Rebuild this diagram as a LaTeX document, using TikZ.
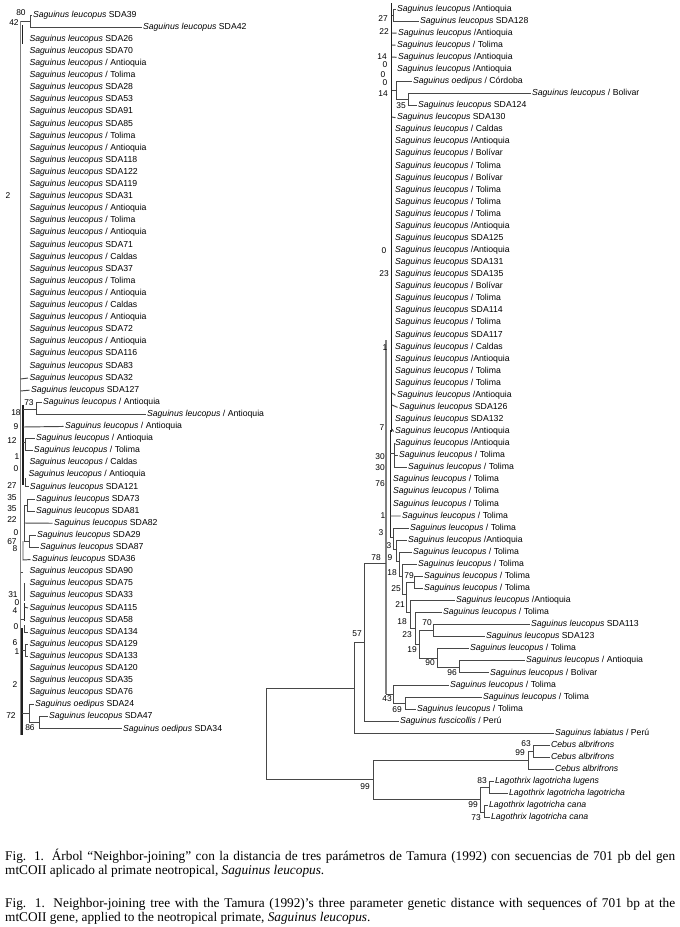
\documentclass[tikz,border=0pt]{standalone}
\usepackage{fontspec}
\setmainfont{Liberation Sans}
\newfontfamily\capfont{Liberation Serif}
\newcommand\SLeu{Saguinus leucopus}
\newcommand\LL[4]{\node[lab] (L#1) at ({#2-1.5},{17.15+12.1*(#1-1)}) {\textit{#3} #4};}
\newcommand\RL[4]{\node[lab] (R#1) at ({#2-1.5},{11.15+12.07*(#1-1)}) {\textit{#3} #4};}
\tikzset{
  lab/.style={anchor=base west, inner sep=0pt, outer xsep=1.5pt, outer ysep=0pt,
    text height=6pt, text depth=1.8pt, font=\fontsize{8.7}{9}\selectfont},
  num/.style={inner sep=0pt, font=\fontsize{8.4}{9}\selectfont},
  br/.style={draw=black!72, line width=0.95pt},
  brd/.style={draw=black!85, line width=1pt},
  trkg/.style={draw=black!50, line width=1.9pt},
  trkd/.style={draw=black!88, line width=1.7pt},
  captxt/.style={anchor=base west, inner sep=0pt, font=\capfont\fontsize{13.3}{15}\selectfont},
}
\begin{document}
\begin{tikzpicture}[x=1pt,y=-1pt]
\fill[white] (0,0) rectangle (680,927);
\useasboundingbox (0,0) rectangle (680,927);

% ---------------- left column labels ----------------
\LL{1}{33}{\SLeu}{SDA39}
\LL{2}{143}{\SLeu}{SDA42}
\LL{3}{29.5}{\SLeu}{SDA26}
\LL{4}{29.5}{\SLeu}{SDA70}
\LL{5}{29.5}{\SLeu}{/ Antioquia}
\LL{6}{29.5}{\SLeu}{/ Tolima}
\LL{7}{29.5}{\SLeu}{SDA28}
\LL{8}{29.5}{\SLeu}{SDA53}
\LL{9}{29.5}{\SLeu}{SDA91}
\LL{10}{29.5}{\SLeu}{SDA85}
\LL{11}{29.5}{\SLeu}{/ Tolima}
\LL{12}{29.5}{\SLeu}{/ Antioquia}
\LL{13}{29.5}{\SLeu}{SDA118}
\LL{14}{29.5}{\SLeu}{SDA122}
\LL{15}{29.5}{\SLeu}{SDA119}
\LL{16}{29.5}{\SLeu}{SDA31}
\LL{17}{29.5}{\SLeu}{/ Antioquia}
\LL{18}{29.5}{\SLeu}{/ Tolima}
\LL{19}{29.5}{\SLeu}{/ Antioquia}
\LL{20}{29.5}{\SLeu}{SDA71}
\LL{21}{29.5}{\SLeu}{/ Caldas}
\LL{22}{29.5}{\SLeu}{SDA37}
\LL{23}{29.5}{\SLeu}{/ Tolima}
\LL{24}{29.5}{\SLeu}{/ Antioquia}
\LL{25}{29.5}{\SLeu}{/ Caldas}
\LL{26}{29.5}{\SLeu}{/ Antioquia}
\LL{27}{29.5}{\SLeu}{SDA72}
\LL{28}{29.5}{\SLeu}{/ Antioquia}
\LL{29}{29.5}{\SLeu}{SDA116}
\LL{30}{29.5}{\SLeu}{SDA83}
\LL{31}{29.5}{\SLeu}{SDA32}
\LL{32}{31}{\SLeu}{SDA127}
\LL{33}{43}{\SLeu}{/ Antioquia}
\LL{34}{147}{\SLeu}{/ Antioquia}
\LL{35}{65}{\SLeu}{/ Antioquia}
\LL{36}{36}{\SLeu}{/ Antioquia}
\LL{37}{34}{\SLeu}{/ Tolima}
\LL{38}{29.5}{\SLeu}{/ Caldas}
\LL{39}{28.5}{\SLeu}{/ Antioquia}
\LL{40}{30}{\SLeu}{SDA121}
\LL{41}{36}{\SLeu}{SDA73}
\LL{42}{36}{\SLeu}{SDA81}
\LL{43}{54}{\SLeu}{SDA82}
\LL{44}{37}{\SLeu}{SDA29}
\LL{45}{40}{\SLeu}{SDA87}
\LL{46}{32}{\SLeu}{SDA36}
\LL{47}{29.5}{\SLeu}{SDA90}
\LL{48}{29.5}{\SLeu}{SDA75}
\LL{49}{29.5}{\SLeu}{SDA33}
\LL{50}{29.5}{\SLeu}{SDA115}
\LL{51}{29.5}{\SLeu}{SDA58}
\LL{52}{29.5}{\SLeu}{SDA134}
\LL{53}{29.5}{\SLeu}{SDA129}
\LL{54}{29.5}{\SLeu}{SDA133}
\LL{55}{29.5}{\SLeu}{SDA120}
\LL{56}{29.5}{\SLeu}{SDA35}
\LL{57}{29.5}{\SLeu}{SDA76}
\LL{58}{35}{Saguinus oedipus}{SDA24}
\LL{59}{49}{\SLeu}{SDA47}
\LL{60}{123}{Saguinus oedipus}{SDA34}

% ---------------- right column labels ----------------
\RL{1}{397}{\SLeu}{/Antioquia}
\RL{2}{420}{\SLeu}{SDA128}
\RL{3}{398}{\SLeu}{/Antioquia}
\RL{4}{397}{\SLeu}{/ Tolima}
\RL{5}{398}{\SLeu}{/Antioquia}
\RL{6}{397}{\SLeu}{/Antioquia}
\RL{7}{413}{Saguinus oedipus}{/ Córdoba}
\RL{8}{532}{\SLeu}{/ Bolivar}
\RL{9}{418}{\SLeu}{SDA124}
\RL{10}{397}{\SLeu}{SDA130}
\RL{11}{395}{\SLeu}{/ Caldas}
\RL{12}{395}{\SLeu}{/Antioquia}
\RL{13}{395}{\SLeu}{/ Bolívar}
\RL{14}{395}{\SLeu}{/ Tolima}
\RL{15}{395}{\SLeu}{/ Bolívar}
\RL{16}{395}{\SLeu}{/ Tolima}
\RL{17}{395}{\SLeu}{/ Tolima}
\RL{18}{395}{\SLeu}{/ Tolima}
\RL{19}{395}{\SLeu}{/Antioquia}
\RL{20}{395}{\SLeu}{SDA125}
\RL{21}{395}{\SLeu}{/Antioquia}
\RL{22}{395}{\SLeu}{SDA131}
\RL{23}{395}{\SLeu}{SDA135}
\RL{24}{395}{\SLeu}{/ Bolívar}
\RL{25}{395}{\SLeu}{/ Tolima}
\RL{26}{395}{\SLeu}{SDA114}
\RL{27}{395}{\SLeu}{/ Tolima}
\RL{28}{395}{\SLeu}{SDA117}
\RL{29}{395}{\SLeu}{/ Caldas}
\RL{30}{395}{\SLeu}{/Antioquia}
\RL{31}{395}{\SLeu}{/ Tolima}
\RL{32}{395}{\SLeu}{/ Tolima}
\RL{33}{397}{\SLeu}{/Antioquia}
\RL{34}{399}{\SLeu}{SDA126}
\RL{35}{395}{\SLeu}{SDA132}
\RL{36}{395}{\SLeu}{/Antioquia}
\RL{37}{395}{\SLeu}{/Antioquia}
\RL{38}{399}{\SLeu}{/ Tolima}
\RL{39}{408}{\SLeu}{/ Tolima}
\RL{40}{393}{\SLeu}{/ Tolima}
\RL{41}{393}{\SLeu}{/ Tolima}
\RL{42}{393}{\SLeu}{/ Tolima}
\RL{43}{402}{\SLeu}{/ Tolima}
\RL{44}{410}{\SLeu}{/ Tolima}
\RL{45}{408}{\SLeu}{/Antioquia}
\RL{46}{413}{\SLeu}{/ Tolima}
\RL{47}{418}{\SLeu}{/ Tolima}
\RL{48}{424}{\SLeu}{/ Tolima}
\RL{49}{424}{\SLeu}{/ Tolima}
\RL{50}{456}{\SLeu}{/Antioquia}
\RL{51}{443}{\SLeu}{/ Tolima}
\RL{52}{531}{\SLeu}{SDA113}
\RL{53}{486}{\SLeu}{SDA123}
\RL{54}{470}{\SLeu}{/ Tolima}
\RL{55}{526}{\SLeu}{/ Antioquia}
\RL{56}{490}{\SLeu}{/ Bolivar}
\RL{57}{450}{\SLeu}{/ Tolima}
\RL{58}{483}{\SLeu}{/ Tolima}
\RL{59}{417}{\SLeu}{/ Tolima}
\RL{60}{400}{Saguinus fuscicollis}{/ Perú}
\RL{61}{555}{Saguinus labiatus}{/ Perú}
\RL{62}{551}{Cebus albrifrons}{}
\RL{63}{551}{Cebus albrifrons}{}
\RL{64}{555}{Cebus albrifrons}{}
\RL{65}{495}{Lagothrix lagotricha lugens}{}
\RL{66}{509}{Lagothrix lagotricha lagotricha}{}
\RL{67}{489}{Lagothrix lagotricha cana}{}
\RL{68}{491}{Lagothrix lagotricha cana}{}

% ---------------- left column tree ----------------
\coordinate (lt) at (20.5,21);
\coordinate (lb) at (20.5,735);
\draw[trkg] (lt) -- (lb);
\draw[trkd] (22.5,25) -- (22.5,44);
\draw[trkd] (23,405) -- (23,485);
\draw[trkd] (22,628) -- (22,735);
\coordinate (c80) at (30,21);
\draw[br] (lt) -- (c80);
\draw[br] (c80) |- (L1.west);
\draw[br] (c80) |- (L2.west);
\draw[br] (20.5,379) -- (L31.west);
\draw[br] (20.5,391) -- (L32.west);
\coordinate (c73) at (36,409);
\draw[br] (23,409) -- (c73);
\draw[br] (c73) |- (L33.west);
\draw[br] (c73) |- (L34.west);
\draw[br] (23,427) -- (L35.west);
\coordinate (c12) at (25,442);
\draw[br] (23,442) -- (c12);
\draw[br] (c12) |- (L36.west);
\draw[br] (c12) |- (L37.west);
\draw[br] (25,478) |- (L40.west);
\coordinate (c22) at (24,523);
\coordinate (c35) at (27,505);
\coordinate (c67) at (29,541);
\draw[br] (c22) |- (c35);
\draw[br] (c22) -- (L43.west);
\draw[br] (c22) |- (c67);
\draw[br] (c35) |- (L41.west);
\draw[br] (c35) |- (L42.west);
\draw[br] (c67) |- (L44.west);
\draw[br] (c67) |- (L45.west);
\draw[br] (23,541) -- (23,560) -- (L46.west);
\draw[br] (20.5,572) -- (23,572);
\draw[br] (24,583) -- (24,601);
\draw[brd] (24,603) -- (24,621);
\draw[br] (24,607) -- (L50.west);
\draw[br] (20.5,619) -- (25,619);
\draw[br] (24,625) |- (L52.west);
\coordinate (c61) at (25,650);
\draw[br] (22,650) -- (c61);
\draw[br] (c61) |- (L53.west);
\draw[br] (c61) |- (L54.west);
\coordinate (cb1) at (29,713);
\coordinate (cb2) at (39,722.5);
\draw[br] (22,713) -- (cb1);
\draw[br] (cb1) |- (L58.west);
\draw[br] (cb1) |- (cb2);
\draw[br] (cb2) |- (L59.west);
\draw[br] (cb2) |- (L60.west);

% ---------------- right column tree ----------------
\coordinate (rt) at (391.5,3);
\coordinate (rtb) at (391.5,432);
\draw[trkd] (rt) -- (rtb);
\coordinate (cC) at (386,563);
\coordinate (cCt) at (386,340);
\coordinate (c43) at (393,694);
\draw[trkg] (cCt) -- (386,694);
\draw[br] (386,694) -- (c43);
\coordinate (cT) at (390,537);
\draw[brd] (390,430) -- (cT);
\coordinate (c27) at (393.5,15);
\draw[br] (391.5,15) -- (c27);
\draw[br] (c27) |- (R1.west);
\draw[br] (c27) |- (R2.west);
\draw[br] (392,33) -- (R3.west);
\draw[br] (392,45) -- (R4.west);
\draw[br] (392,57) -- (R5.west);
\coordinate (c0) at (396,90);
\coordinate (c35r) at (408,99);
\draw[br] (391.5,90) -- (c0);
\draw[br] (c0) |- (R7.west);
\draw[br] (c0) |- (c35r);
\draw[br] (c35r) |- (R8.west);
\draw[br] (c35r) |- (R9.west);
\draw[br] (392,117) -- (R10.west);
\draw[br] (392,393) -- (R33.west);
\draw[br] (392,405) -- (R34.west);
\draw[br] (392,429) -- (R36.west);
\coordinate (c30r) at (394,453);
\draw[br] (390,453) -- (c30r);
\draw[br] (c30r) |- (R37.west);
\draw[br] (c30r) |- (R38.west);
\draw[br] (c30r) |- (R39.west);
\draw[br] (390,516) -- (R43.west);
% ladder
\coordinate (cK2) at (393,537);
\coordinate (cK3) at (396,549);
\coordinate (cK4) at (399,561);
\coordinate (cK5) at (402,576);
\coordinate (cK6) at (406,594);
\coordinate (c79) at (414,582);
\coordinate (cK7) at (410,612);
\coordinate (cK8) at (415,628);
\coordinate (cK9) at (419,644);
\coordinate (c70) at (433,630);
\coordinate (c90) at (437,658);
\coordinate (c96) at (459,667);
\draw[br] (cT) -- (cK2);
\draw[br] (cK2) |- (R44.west);
\draw[br] (cK2) |- (cK3);
\draw[br] (cK3) |- (R45.west);
\draw[br] (cK3) |- (cK4);
\draw[br] (cK4) |- (R46.west);
\draw[br] (cK4) |- (cK5);
\draw[br] (cK5) |- (R47.west);
\draw[br] (cK5) |- (cK6);
\draw[br] (cK6) |- (c79);
\draw[br] (cK6) |- (cK7);
\draw[br] (c79) |- (R48.west);
\draw[br] (c79) |- (R49.west);
\draw[br] (cK7) |- (R50.west);
\draw[br] (cK7) |- (cK8);
\draw[br] (cK8) |- (R51.west);
\draw[br] (cK8) |- (cK9);
\draw[br] (cK9) |- (c70);
\draw[br] (cK9) |- (c90);
\draw[br] (c70) |- (R52.west);
\draw[br] (c70) |- (R53.west);
\draw[br] (c90) |- (R54.west);
\draw[br] (c90) |- (c96);
\draw[br] (c96) |- (R55.west);
\draw[br] (c96) |- (R56.west);
% lower clades
\coordinate (c69) at (405,703);
\draw[br] (c43) |- (R57.west);
\draw[br] (c43) |- (c69);
\draw[br] (c69) |- (R58.west);
\draw[br] (c69) |- (R59.west);
\coordinate (cB) at (364,642);
\coordinate (cA) at (354,688);
\coordinate (cR) at (266,733);
\coordinate (cO) at (373,779);
\draw[br] (cB) |- (cC);
\draw[br] (cB) |- (R60.west);
\draw[br] (cA) |- (cB);
\draw[br] (cA) |- (R61.west);
\draw[br] (cR) |- (cA);
\draw[br] (cR) |- (cO);
\coordinate (cCeb) at (528,760);
\coordinate (c63) at (533,751);
\coordinate (cLag) at (480,799);
\coordinate (c83) at (489,787.5);
\coordinate (c73r) at (484,812);
\draw[br] (cO) |- (cCeb);
\draw[br] (cO) |- (cLag);
\draw[br] (cCeb) |- (c63);
\draw[br] (cCeb) |- (R64.west);
\draw[br] (c63) |- (R62.west);
\draw[br] (c63) |- (R63.west);
\draw[br] (cLag) |- (c83);
\draw[br] (cLag) |- (c73r);
\draw[br] (c83) |- (R65.west);
\draw[br] (c83) |- (R66.west);
\draw[br] (c73r) |- (R67.west);
\draw[br] (c73r) |- (R68.west);

% ---------------- support values ----------------
\foreach \t/\x/\y [count=\i] in {80/21/13, 42/14/23, 2/8/196, 73/29/403, 18/16/413, 9/16/427,
  12/12/441, 1/17/457, 0/16/469, 27/12/486, 35/12/498, 35/12/509, 22/12/520, 0/16/533,
  67/12/542, 8/15/549, 31/13/595, 0/17/603, 4/15/611, 0/16/627, 6/15/643, 1/17/652,
  2/15/685, 72/11/716, 86/30/728}
  \node[num] (nl\i) at (\x,\y) {\t};
\foreach \t/\x/\y [count=\i] in {27/383/19, 22/384/32, 14/382/57, 0/385/64.5, 0/383/75,
  0/385/82.5, 14/383/94, 35/401/106, 0/384/251, 23/384/274, 1/385/348, 7/382/428,
  30/380/457, 30/380/468, 76/380/484, 1/383/516, 3/381/533, 3/389/546, 78/376/558,
  9/390/558, 18/392/573, 79/409/576, 25/396/589, 21/400/605, 18/402/622, 70/427/623,
  23/407/635, 19/412/650, 90/430/663, 96/452/673, 43/387/699, 69/397/710, 57/357/634,
  99/365/787, 63/526/744, 99/520/753, 83/482/781, 99/473/805, 73/476/818}
  \node[num] (nr\i) at (\x,\y) {\t};

% ---------------- caption ----------------
\node[captxt] (cap1) at (5,860.5) {\makebox[670pt][s]{Fig. 1. Árbol “Neighbor-joining” con la distancia de tres parámetros de Tamura (1992) con secuencias de 701 pb del gen}};
\node[captxt] (cap2) at (5,874.5) {mtCOII aplicado al primate neotropical, \textit{Saguinus leucopus}.};
\node[captxt] (cap3) at (5,907.5) {\makebox[670pt][s]{Fig. 1. Neighbor-joining tree with the Tamura (1992)’s three parameter genetic distance with sequences of 701 bp at the}};
\node[captxt] (cap4) at (5,921.5) {mtCOII gene, applied to the neotropical primate, \textit{Saguinus leucopus}.};
\end{tikzpicture}
\end{document}
